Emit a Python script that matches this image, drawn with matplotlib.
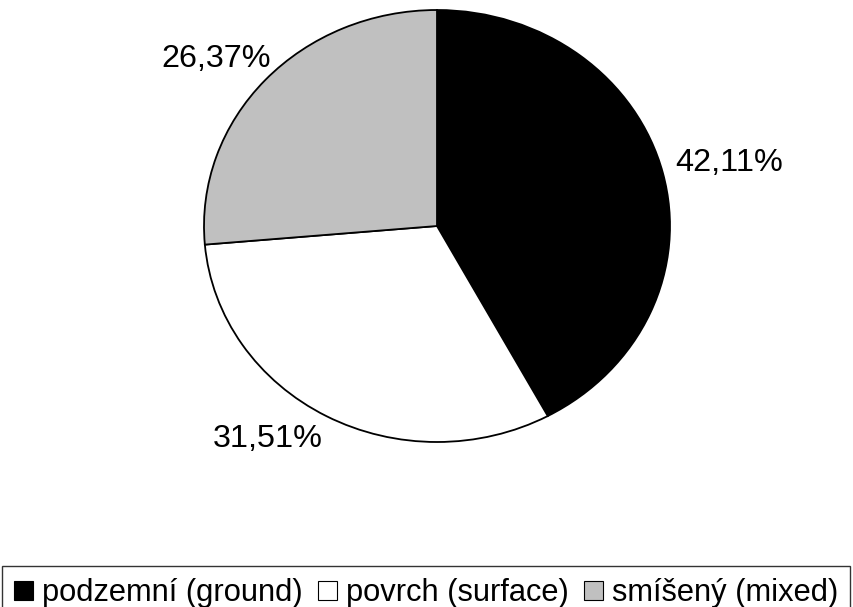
import matplotlib.pyplot as plt
from matplotlib.patches import Patch

plt.rcParams['font.family'] = ['Liberation Sans', 'DejaVu Sans']

labels = ['podzemní (ground)', 'povrch (surface)', 'smíšený (mixed)']
shares = [42.11, 31.51, 26.37]
colors = ['black', 'white', '#c0c0c0']
pct_labels = ['42,11%', '31,51%', '26,37%']

fig = plt.figure(figsize=(8.54, 6.07), dpi=100)
W, H = 854, 607
ax = fig.add_axes([204 / W, 1 - 442 / H, 466 / W, 432 / H])

wedges, _ = ax.pie(shares, colors=colors, startangle=90, counterclock=False,
                   radius=1, wedgeprops=dict(edgecolor='black', linewidth=1.3))
ax.set_aspect('auto')
ax.set_xlim(-1, 1)
ax.set_ylim(-1, 1)
ax.axis('off')

# label positions (axes-data units)
label_pos = [(1.255, 0.29), (-0.725, -0.985), (-0.95, 0.775)]
for (x, y), txt in zip(label_pos, pct_labels):
    ax.text(x, y, txt, ha='center', va='center', fontsize=23.3, color='black')

handles = [Patch(facecolor=c, edgecolor='black', linewidth=0.8) for c in colors]
leg = fig.legend(handles, labels, loc='upper left', ncol=3,
                 bbox_to_anchor=(2 / W, 1 - 566 / H), bbox_transform=fig.transFigure,
                 fontsize=22.2, frameon=True, fancybox=False, edgecolor='black',
                 borderaxespad=0, handlelength=0.6, handleheight=0.6,
                 handletextpad=0.3, columnspacing=0.5, borderpad=0.4)
leg.get_frame().set_linewidth(1.0)

fig.savefig('out.png', dpi=100)
